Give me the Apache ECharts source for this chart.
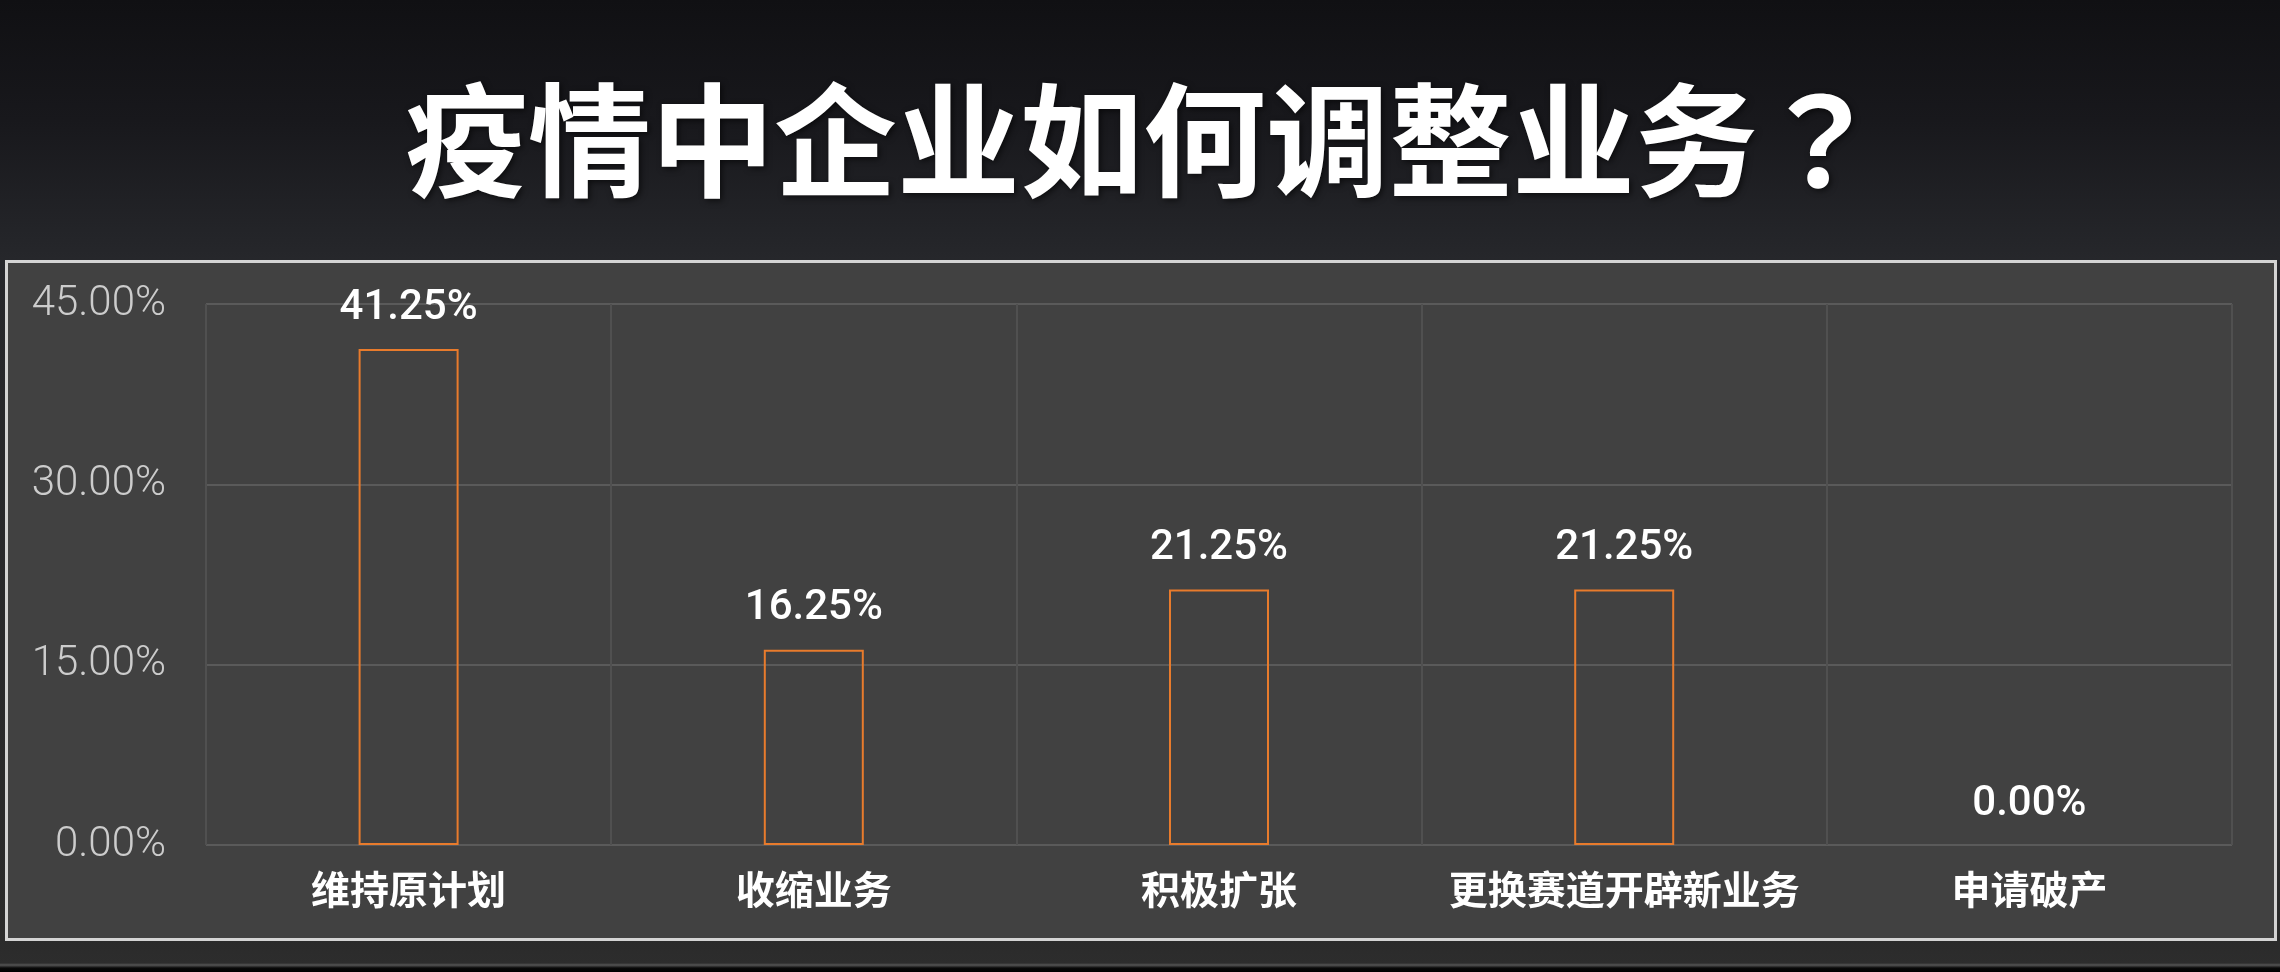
<!DOCTYPE html>
<html>
<head>
<meta charset="utf-8">
<script src="https://cdn.jsdelivr.net/npm/echarts@6/dist/echarts.min.js"></script>
<style>
  html, body { margin: 0; padding: 0; width: 2280px; height: 972px; overflow: hidden; }
  body {
    background: linear-gradient(to bottom, #101013 0px, #18181c 120px, #232428 230px, #26272b 260px, #2b2b2b 940px, #2d2d2d 963px, #555 965px, #0a0a0a 968px, #000 972px);
    position: relative;
  }
  #panel {
    position: absolute; left: 5px; top: 260px; width: 2266px; height: 675px;
    background: #414141; border: 3px solid #d4d4d4;
  }
  #chart { position: absolute; left: 0; top: 0; width: 2280px; height: 972px; }
</style>
</head>
<body>
<div id="panel"></div>
<div id="chart"></div>
<script>
const titleMain = '疫情中企业如何调整业务';
const titleMark = '？';
const categories = ['维持原计划', '收缩业务', '积极扩张', '更换赛道开辟新业务', '申请破产'];
const values = [41.25, 16.25, 21.25, 21.25, 0];
const yTicks = { min: 0, max: 45, interval: 15 };

const chart = echarts.init(document.getElementById('chart'), null, { renderer: 'canvas' });
const seriesData = values.map(v => v === 0 ? { value: v, itemStyle: { borderWidth: 0 } } : { value: v });

const titleStyle = {
  color: '#ffffff',
  fontSize: 123,
  lineHeight: 123,
  fontWeight: 'bold',
  fontFamily: '"Noto Sans CJK SC", sans-serif',
  textShadowColor: 'rgba(0,0,0,0.6)',
  textShadowBlur: 6,
  textShadowOffsetX: 2,
  textShadowOffsetY: 2
};

chart.setOption({
  backgroundColor: 'transparent',
  title: {
    text: titleMain + '{q|' + titleMark + '}',
    left: 400,
    top: 74,
    textStyle: Object.assign({}, titleStyle, {
      rich: {
        q: Object.assign({}, titleStyle, { fontFamily: '"Noto Sans CJK TC", sans-serif', fontWeight: 'bold' })
      }
    })
  },
  grid: { left: 206, right: 48, top: 304, bottom: 127, containLabel: false },
  xAxis: {
    type: 'category',
    data: categories,
    axisLine: { show: false },
    axisTick: { show: false },
    splitLine: { show: true, lineStyle: { color: '#505050', width: 2 } },
    axisLabel: {
      color: '#ffffff',
      fontSize: 39,
      fontWeight: 'bold',
      fontFamily: '"Noto Sans CJK SC", sans-serif',
      margin: 25,
      interval: 0
    }
  },
  yAxis: {
    type: 'value',
    min: yTicks.min,
    max: yTicks.max,
    interval: yTicks.interval,
    axisLine: { show: false },
    axisTick: { show: false },
    splitLine: { show: true, lineStyle: { color: '#5a5a5a', width: 2 } },
    axisLabel: {
      color: '#cccccc',
      fontSize: 42,
      fontWeight: 300,
      fontFamily: 'Roboto, sans-serif',
      margin: 40,
      formatter: v => v.toFixed(2) + '%'
    }
  },
  series: [{
    type: 'bar',
    data: seriesData,
    barWidth: 100,
    itemStyle: {
      color: 'rgba(0,0,0,0)',
      borderColor: '#e87b2c',
      borderWidth: 2
    },
    label: {
      show: true,
      position: 'top',
      distance: 20,
      color: '#ffffff',
      fontSize: 42,
      fontWeight: 500,
      fontFamily: 'Roboto, sans-serif',
      formatter: p => Number(p.value).toFixed(2) + '%'
    }
  }]
});
</script>
</body>
</html>
